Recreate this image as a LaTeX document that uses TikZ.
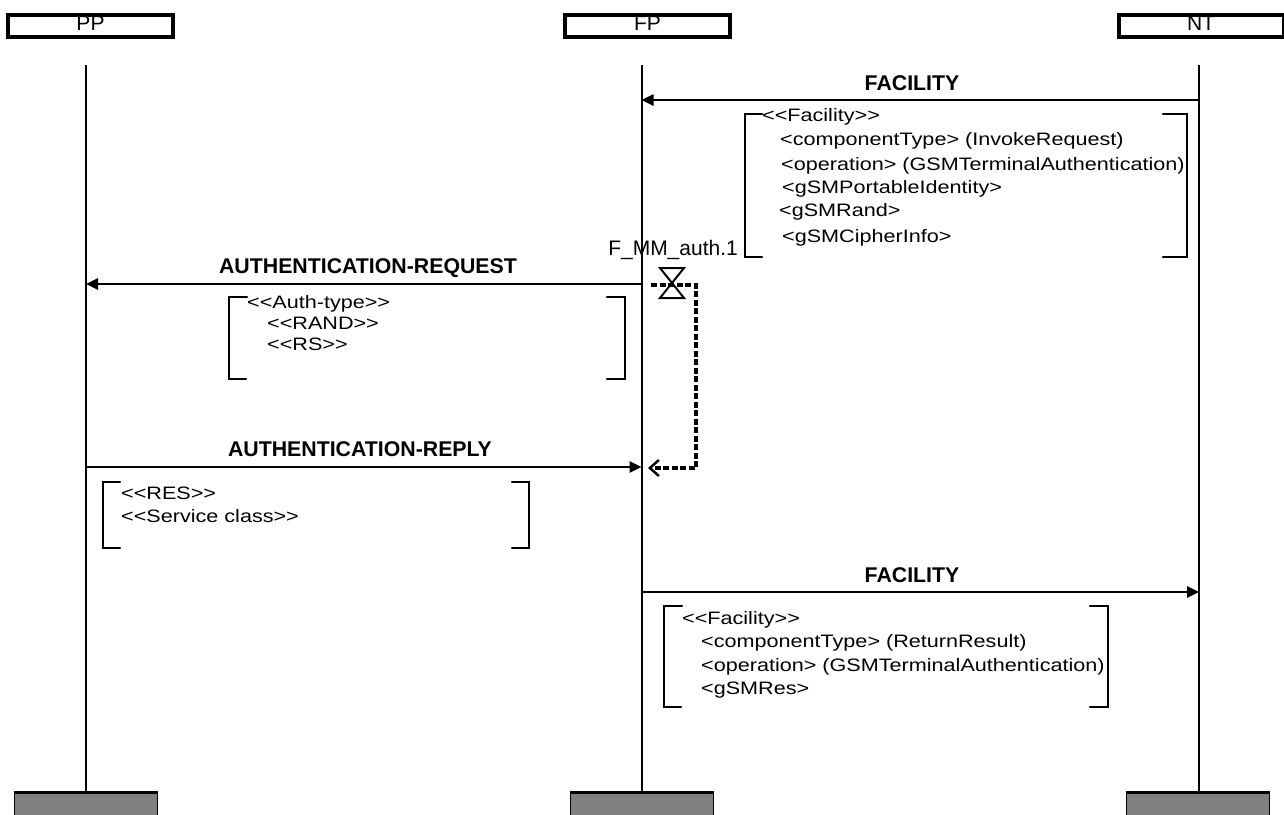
\documentclass[tikz,border=0pt]{standalone}
\usepackage{fontspec}
\setmainfont{Liberation Sans}
\newfontfamily\bfam[FakeStretch=1.2]{Liberation Sans}
\usetikzlibrary{arrows.meta,calc}
\tikzset{
  hdr/.style={draw, line width=4pt, minimum width=165pt, minimum height=22pt, inner sep=0pt, font=\fontsize{21}{24}\selectfont},
  foot/.style={draw, line width=1.5pt, fill={rgb,255:red,128;green,128;blue,128}, minimum width=143pt, minimum height=40pt, inner sep=0pt},
  life/.style={line width=2pt},
  msg/.style={line width=2.5pt, -{Triangle[length=12pt,width=11pt]}},
  lbl/.style={font=\fontsize{21.3}{25}\selectfont\bfseries, inner sep=0pt, anchor=base},
  btxt/.style={font=\bfam\fontsize{18}{20}\selectfont, inner sep=0pt, anchor=base west},
  brk/.style={line width=2.5pt, line cap=round, line join=miter},
  tmr/.style={line width=2pt},
  tline/.style={line width=4pt, dash pattern=on 6pt off 2.5pt, -{Straight Barb[length=9pt,width=16pt,line width=2.5pt]}},
}
\begin{document}
\begin{tikzpicture}[x=1pt,y=-1pt]
\useasboundingbox (0,0) rectangle (1284,814);
% headers
\node[hdr] (PPh) at (90.5,26) {\raisebox{4.5pt}{PP}};
\node[hdr] (FPh) at (647.5,26) {\raisebox{4.5pt}{FP}};
\node[hdr] (NTh) at (1201,26) {\raisebox{4.5pt}{NT}};
% feet
\node[foot] (PPf) at (86,813) {};
\node[foot] (FPf) at (642,813) {};
\node[foot] (NTf) at (1198,813) {};
\draw[line width=2.5pt] (PPf.north west) -- (PPf.north east);
\draw[line width=2.5pt] (FPf.north west) -- (FPf.north east);
\draw[line width=2.5pt] (NTf.north west) -- (NTf.north east);
% lifelines
\coordinate (PPt) at (86,65);
\coordinate (FPt) at (641.5,65);
\coordinate (NTt) at (1199,65);
\draw[life] (PPt) -- (PPt |- PPf.north);
\draw[life] (FPt) -- (FPt |- FPf.north);
\draw[life] (NTt) -- (NTt |- NTf.north);
% message 1
\coordinate (NT1) at (1199,100);
\coordinate (FP1) at (641.5,100);
\draw[msg] (NT1) -- (FP1);
\node[lbl] (m1) at (912,90) {FACILITY};
% bracket 1
\draw[brk] (762,114) -- (745,114) -- (745,257) -- (762,257);
\draw[brk] (1163,114) -- (1187,114) -- (1187,257) -- (1163,257);
\node[btxt] (b1a) at (762,121) {<<Facility>>};
\node[btxt] (b1b) at (780,145) {<componentType> (InvokeRequest)};
\node[btxt] (b1c) at (781,170) {<operation> (GSMTerminalAuthentication)};
\node[btxt] (b1d) at (782,193) {<gSMPortableIdentity>};
\node[btxt] (b1e) at (779,216) {<gSMRand>};
\node[btxt] (b1f) at (782,242) {<gSMCipherInfo>};
% timer
\node[font=\fontsize{21}{24}\selectfont, inner sep=0pt, anchor=base east] (tl) at (738,255) {F\_MM\_auth.1};
\coordinate (T) at (672,283);
\draw[tmr] ($(T)+(-12,-15)$) -- ($(T)+(12,-15)$) -- ($(T)+(-12,15)$) -- ($(T)+(12,15)$) -- cycle;
% message 2
\coordinate (FP2) at (641.5,284);
\coordinate (PP2) at (86,284);
\draw[msg] (FP2) -- (PP2);
\node[lbl] (m2) at (368,273) {AUTHENTICATION-REQUEST};
% bracket 2
\draw[brk] (247,297) -- (229,297) -- (229,379) -- (246,379);
\draw[brk] (607,297) -- (625,297) -- (625,379) -- (607,379);
\node[btxt] (b2a) at (247,308) {<<Auth-type>>};
\node[btxt] (b2b) at (267,329) {<<RAND>>};
\node[btxt] (b2c) at (267,350) {<<RS>>};
% message 3
\coordinate (PP3) at (86,467);
\coordinate (FP3) at (641.5,467);
\draw[msg] (PP3) -- (FP3);
\node[lbl] (m3) at (360,456) {AUTHENTICATION-REPLY};
% timer line
\coordinate (T1) at (651,285);
\coordinate (T2) at (648,468);
\draw[tline] (T1) -- (696,285) |- (T2);
% bracket 3
\draw[brk] (120,482) -- (103,482) -- (103,548) -- (120,548);
\draw[brk] (512,482) -- (529,482) -- (529,548) -- (512,548);
\node[btxt] (b3a) at (121,499) {<<RES>>};
\node[btxt] (b3b) at (121,522) {<<Service class>>};
% message 4
\coordinate (FP4) at (641.5,592);
\coordinate (NT4) at (1199,592);
\draw[msg] (FP4) -- (NT4);
\node[lbl] (m4) at (912,582) {FACILITY};
% bracket 4
\draw[brk] (682,606) -- (664,606) -- (664,707) -- (681,707);
\draw[brk] (1090,606) -- (1108,606) -- (1108,707) -- (1090,707);
\node[btxt] (b4a) at (682,624) {<<Facility>>};
\node[btxt] (b4b) at (701,647) {<componentType> (ReturnResult)};
\node[btxt] (b4c) at (701,671) {<operation> (GSMTerminalAuthentication)};
\node[btxt] (b4d) at (701,694) {<gSMRes>};
\end{tikzpicture}
\end{document}
